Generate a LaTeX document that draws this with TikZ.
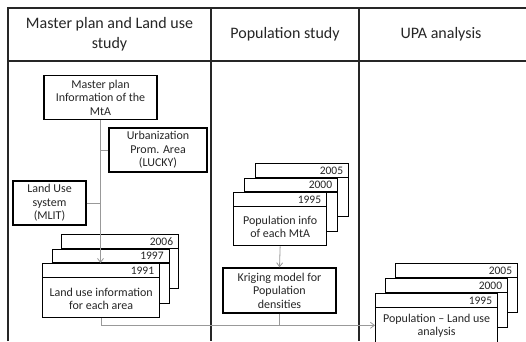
\documentclass[tikz,border=0pt]{standalone}
\usepackage{fontspec}
\setmainfont{Carlito}
\usetikzlibrary{arrows.meta,calc}
\newcommand\mycard[6]{%
  \node[card, minimum width=#4pt, minimum height=#5pt] (#1) at (#2,#3) {};
  \draw[cardline] ($(#1.north west)+(0,14.5)$) -- ($(#1.north east)+(0,14.5)$);
  \node[yearlbl] (#1y) at ($(#1.north east)+(-6,7.6)$) {#6};
}
\begin{document}
\begin{tikzpicture}[x=1pt,y=-1pt,
  tbl/.style={line width=1.4pt, draw=black!85},
  card/.style={draw=black, line width=1.3pt, fill=white, rectangle, inner sep=0pt, anchor=north west},
  cardline/.style={draw=black, line width=1.3pt},
  box/.style={draw=black, line width=1.3pt, fill=white, rectangle, inner sep=0pt, align=center,
    font=\fontsize{12}{13.5}\selectfont, text=black!85},
  txt/.style={align=center, font=\fontsize{12}{13.5}\selectfont, text=black!85, inner sep=0pt},
  yearlbl/.style={anchor=east, font=\fontsize{11.5}{13}\selectfont, inner sep=0pt, text=black!85},
  hdr/.style={align=center, font=\fontsize{16}{20}\selectfont, text=black!85, inner sep=0pt},
  conn/.style={draw=black!40, line width=0.8pt},
  arr/.style={conn, -{Straight Barb[length=4pt,width=6pt]}}
]
\useasboundingbox[fill=white] (0,0) rectangle (526,341);

% table
\draw[tbl] (8,341) -- (8,8) -- (526,8);
\draw[tbl] (8,61) -- (526,61);
\draw[tbl] (211,8) -- (211,341);
\draw[tbl] (359,8) -- (359,341);

\node[hdr] (h1) at (109.5,34.5) {Master plan and Land use\\study};
\node[hdr] (h2) at (285,34.5) {Population study};
\node[hdr] (h3) at (441,34.5) {UPA analysis};

% left column boxes
\node[box, minimum width=113pt, minimum height=44pt] (mp) at (100.5,97.5) {Master plan\\Information of the\\MtA};
\node[box, minimum width=98pt, minimum height=44pt] (urb) at (158,150) {Urbanization\\Prom. Area\\(LUCKY)};
\node[box, minimum width=73pt, minimum height=44pt] (lus) at (49.5,203) {Land Use\\system\\(MLIT)};

\mycard{lu3}{61}{234}{117}{54}{2006}
\mycard{lu2}{51.5}{248.5}{117}{54}{1997}
\mycard{lu1}{42}{263}{117}{54}{1991}
\node[txt] (lut) at ($(lu1.center)+(0,8)$) {Land use information\\for each area};

% middle column
\mycard{pop3}{255}{163}{93}{53}{2005}
\mycard{pop2}{244}{177.5}{93}{53}{2000}
\mycard{pop1}{233}{192}{93}{53}{1995}
\node[txt] (popt) at ($(pop1.center)+(0,7.5)$) {Population info\\of each MtA};

\node[box, minimum width=113pt, minimum height=45pt] (kr) at (279.5,290.5) {Kriging model for\\Population\\densities};

% right column
\mycard{upa3}{395}{263}{122}{49}{2005}
\mycard{upa2}{385}{278}{122}{49}{2000}
\mycard{upa1}{375}{293}{122}{49}{1995}
\node[txt] (upat) at ($(upa1.center)+(0,7.5)$) {Population -- Land use\\analysis};

% connectors
\draw[arr] (mp.south) -- (mp.south |- lu1.north);
\draw[conn] (urb.west) -- (urb.west -| mp.south);
\draw[conn] (lus.east) -- (lus.east -| mp.south);
\draw[arr] (pop1.south) -- (kr.north);
\coordinate (jl) at ($(lu1.south)+(0,7)$);
\draw[arr] (lu1.south) -- (jl) -- (jl -| upa1.west);
\draw[conn] (kr.south) -- (kr.south |- jl);
\end{tikzpicture}
\end{document}
